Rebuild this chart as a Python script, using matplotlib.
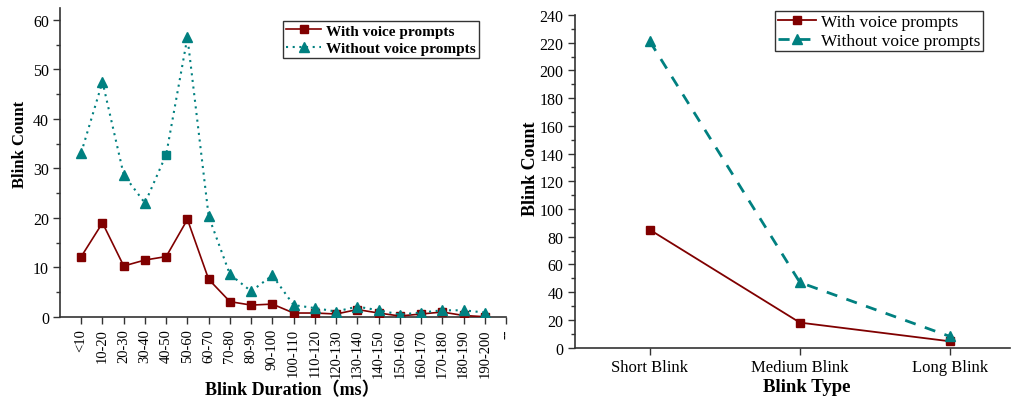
import matplotlib
matplotlib.use("Agg")
import matplotlib.pyplot as plt
from matplotlib.ticker import MultipleLocator

plt.rcParams['font.family'] = ['Liberation Serif', 'Noto Sans CJK SC', 'DejaVu Sans']

# ---- data: left panel ----
duration_labels = ["<10", "10-20", "20-30", "30-40", "40-50", "50-60", "60-70", "70-80",
                   "80-90", "90-100", "100-110", "110-120", "120-130", "130-140", "140-150",
                   "150-160", "160-170", "170-180", "180-190", "190-200"]
extra_tick_label = "--"
with_voice = [12.2, 19.0, 10.3, 11.5, 12.2, 19.7, 7.6, 3.1, 2.4, 2.6,
              0.8, 0.8, 0.6, 1.5, 0.8, 0.2, 0.6, 1.0, 0.3, 0.05]
without_voice = [33.2, 47.5, 28.7, 23.0, 32.8, 56.5, 20.3, 8.6, 5.2, 8.4,
                 2.4, 1.8, 1.1, 2.1, 1.35, 0.5, 0.9, 1.35, 1.35, 0.9]
square_index = 4  # the 40-50 point of "without" is drawn as a square in the original

# ---- data: right panel ----
blink_types = ["Short Blink", "Medium Blink", "Long Blink"]
type_with = [85, 18, 4.5]
type_without = [221, 47, 8]

RED = '#800000'
TEAL = '#008080'
AXC = '#333333'

fig = plt.figure(figsize=(10.12, 4.02), dpi=100)
ax1 = fig.add_axes([0.0593, 0.209, 0.4407, 0.7687])
ax2 = fig.add_axes([0.568, 0.133, 0.430, 0.827])

# ---- left ----
x1 = list(range(len(duration_labels)))
ax1.plot(x1, with_voice, color=RED, lw=1.2, marker='s', ms=5.5,
         label='With voice prompts', zorder=3)
tri_idx = [i for i in x1 if i != square_index]
ax1.plot(x1, without_voice, color=TEAL, lw=1.5, ls=(0, (1, 2.2)), marker='^', ms=6.5,
         markevery=tri_idx, label='Without voice prompts', zorder=4)
ax1.plot([x1[square_index]], [without_voice[square_index]], color=TEAL, marker='s',
         ms=5.5, ls='none', zorder=5)
ax1.set_xlim(-1, len(duration_labels))
ax1.set_ylim(0, 62.4)
ax1.set_xticks(list(range(len(duration_labels) + 1)))
ax1.set_xticklabels(duration_labels + [extra_tick_label], rotation=90, fontsize=10.5)
ax1.yaxis.set_major_locator(MultipleLocator(10))
ax1.yaxis.set_minor_locator(MultipleLocator(5))
ax1.tick_params(axis='y', labelsize=11.5, length=5, width=1, color=AXC, pad=3)
ax1.tick_params(axis='y', which='minor', length=3, width=1, color=AXC)
ax1.tick_params(axis='x', length=5, width=1, color=AXC, pad=3)
ax1.set_ylabel('Blink Count', fontsize=12, fontweight='bold')
ax1.yaxis.set_label_coords(-0.072, 0.56)
ax1.set_xlabel('Blink Duration（ms）', fontsize=13, fontweight='bold')
ax1.xaxis.set_label_coords(0.52, -0.208)
for s in ['top', 'right']:
    ax1.spines[s].set_visible(False)
for s in ['left', 'bottom']:
    ax1.spines[s].set_color(AXC)
    ax1.spines[s].set_linewidth(1.2)
leg1 = ax1.legend(loc='upper left', bbox_to_anchor=(0.5, 0.958), frameon=True,
                  fancybox=False, edgecolor='black', prop={'weight': 'bold', 'size': 11},
                  handlelength=2.3, borderpad=0.2, labelspacing=0.25, handletextpad=0.3,
                  borderaxespad=0)
leg1.get_frame().set_linewidth(1.0)

# ---- right ----
x2 = list(range(len(blink_types)))
ax2.plot(x2, type_with, color=RED, lw=1.3, marker='s', ms=6, label='With voice prompts', zorder=3)
ax2.plot(x2, type_without, color=TEAL, lw=2.0, ls=(0, (4, 3.5)), marker='^', ms=7,
         label='Without voice prompts', zorder=4)
ax2.set_xlim(-0.5, 2.4)
ax2.set_ylim(0, 240)
ax2.set_xticks(x2)
ax2.set_xticklabels(blink_types, fontsize=12)
ax2.yaxis.set_major_locator(MultipleLocator(20))
ax2.yaxis.set_minor_locator(MultipleLocator(10))
ax2.tick_params(axis='y', labelsize=11.5, length=5, width=1, color=AXC, pad=3)
ax2.tick_params(axis='y', which='minor', length=3, width=1, color=AXC)
ax2.tick_params(axis='x', length=5, width=1, color=AXC, pad=3)
ax2.set_ylabel('Blink Count', fontsize=13, fontweight='bold')
ax2.yaxis.set_label_coords(-0.083, 0.54)
ax2.set_xlabel('Blink Type', fontsize=13.5, fontweight='bold')
ax2.xaxis.set_label_coords(0.533, -0.093)
for s in ['top', 'right']:
    ax2.spines[s].set_visible(False)
for s in ['left', 'bottom']:
    ax2.spines[s].set_color(AXC)
    ax2.spines[s].set_linewidth(1.2)
leg2 = ax2.legend(loc='upper left', bbox_to_anchor=(0.46, 1.012), frameon=True,
                  fancybox=False, edgecolor='black', prop={'size': 12.5},
                  handlelength=2.2, borderpad=0.15, labelspacing=0.15, handletextpad=0.3,
                  borderaxespad=0)
leg2.get_frame().set_linewidth(1.0)

fig.savefig('out.png', dpi=100)
